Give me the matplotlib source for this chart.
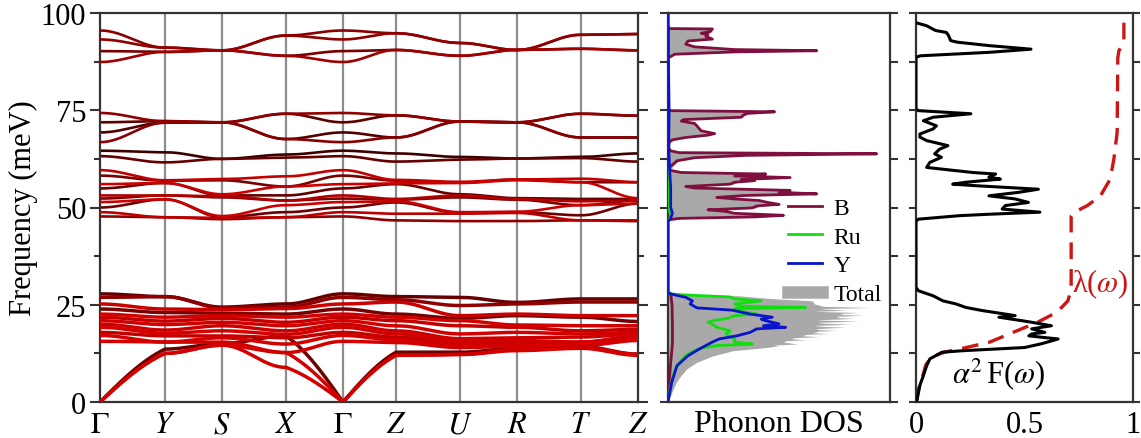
import numpy as np
import matplotlib
matplotlib.use("Agg")
import matplotlib.pyplot as plt
from matplotlib.lines import Line2D

plt.rcParams['font.family'] = ['Liberation Serif', 'DejaVu Serif']
plt.rcParams['mathtext.fontset'] = 'stix'

# ---------------- band structure ----------------
kpath_labels = [r'$\Gamma$', '$Y$', '$S$', '$X$', r'$\Gamma$', '$Z$', '$U$', '$R$', '$T$', '$Z$']
kpath_pos = [0.0, 0.65, 1.22, 1.86, 2.43, 2.96, 3.60, 4.17, 4.81, 5.38]

# frequencies (meV) at the high-symmetry points, one row per branch
bands_high = [
    [95.5, 91.1, 90.4, 94.2, 95.5, 94.8, 92.3, 90.5, 94.4, 94.6],
    [93.2, 91.1, 90.4, 94.2, 93.2, 94.8, 92.3, 90.5, 94.4, 94.6],
    [90.2, 90.0, 90.4, 89.0, 90.2, 90.5, 89.0, 90.5, 90.8, 90.4],
    [87.4, 90.0, 90.4, 89.0, 87.4, 90.5, 89.0, 90.5, 90.8, 90.4],
]
shade_high = [0.55, 0.6, 0.45, 0.7]

bands_c = [
    [74.3, 72.2, 71.9, 74.1, 74.3, 73.7, 72.1, 71.9, 74.1, 73.6],
    [71.9, 72.2, 71.9, 74.1, 71.9, 73.7, 72.1, 71.9, 74.1, 73.6],
    [69.3, 71.8, 71.9, 67.6, 69.3, 68.0, 72.1, 71.9, 68.0, 68.0],
    [66.8, 71.8, 71.9, 67.6, 66.8, 68.0, 72.1, 71.9, 68.0, 68.0],
]
shade_c = [0.6, 0.3, 0.25, 0.55]

bands_e = [
    [64.6, 64.2, 62.5, 63.6, 64.6, 63.9, 63.0, 62.6, 63.0, 63.9],
    [63.2, 61.6, 62.5, 62.8, 63.2, 61.8, 62.3, 62.6, 62.7, 61.8],
]
shade_e = [0.1, 0.35]

bands_mid = [
    [59.6, 57.0, 57.3, 58.0, 59.6, 57.1, 56.6, 57.2, 57.4, 56.5],
    [58.2, 56.9, 57.0, 55.4, 58.2, 56.9, 56.4, 57.2, 56.5, 56.5],
    [56.0, 56.3, 53.4, 55.4, 56.0, 56.2, 56.3, 57.0, 56.5, 52.4],
    [54.9, 56.3, 53.1, 53.1, 54.9, 56.0, 53.4, 52.4, 52.2, 52.2],
    [53.1, 53.1, 52.9, 51.8, 53.1, 52.2, 53.1, 52.2, 51.6, 51.8],
    [52.3, 53.1, 52.6, 51.8, 52.3, 52.0, 52.6, 52.0, 50.6, 51.8],
    [51.4, 52.1, 47.8, 50.6, 51.4, 51.6, 48.8, 48.9, 50.6, 51.0],
    [50.0, 52.1, 47.5, 48.8, 50.0, 51.3, 48.6, 48.8, 48.0, 51.0],
    [48.8, 47.5, 47.3, 47.5, 48.8, 48.4, 48.4, 48.6, 46.7, 46.7],
    [47.7, 47.5, 47.0, 47.5, 47.7, 46.7, 46.5, 46.5, 46.7, 46.5],
]
shade_mid = [0.9, 0.45, 0.95, 0.35, 0.8, 0.5, 0.95, 0.4, 0.85, 0.6]

bands_low = [
    [27.8, 27.1, 24.4, 25.2, 27.8, 27.1, 26.9, 25.6, 26.5, 26.5],
    [26.9, 27.1, 24.2, 24.4, 26.9, 26.3, 24.8, 25.2, 25.7, 25.7],
    [25.2, 23.9, 23.7, 24.0, 25.2, 25.7, 22.2, 22.6, 22.2, 22.2],
    [23.9, 23.0, 22.8, 22.6, 23.9, 22.6, 21.5, 22.2, 21.8, 20.7],
    [22.6, 21.8, 22.2, 21.8, 22.6, 21.8, 20.9, 19.8, 19.6, 19.6],
    [21.8, 20.8, 21.5, 20.5, 21.8, 20.9, 19.6, 19.2, 18.3, 18.7],
    [20.9, 19.9, 20.5, 19.6, 20.9, 19.6, 17.5, 17.9, 17.5, 17.9],
    [20.0, 18.5, 19.6, 18.3, 20.0, 18.3, 16.3, 16.5, 16.7, 17.5],
    [19.2, 17.7, 18.3, 17.4, 19.2, 17.5, 15.7, 15.8, 15.4, 17.0],
    [17.9, 17.0, 17.0, 16.5, 17.9, 16.7, 15.1, 15.1, 15.4, 16.6],
    [17.1, 15.4, 16.5, 14.9, 17.1, 16.0, 14.6, 14.7, 14.5, 16.2],
    [15.6, 15.4, 15.4, 12.7, 15.6, 15.3, 14.0, 14.3, 14.5, 15.8],
    [0.0, 13.6, 15.0, 17.0, 0.0, 12.8, 12.8, 13.8, 14.3, 12.3],
    [0.0, 12.5, 14.6, 12.7, 0.0, 12.0, 12.2, 13.5, 14.0, 12.3],
    [0.0, 12.5, 14.6, 8.9, 0.0, 12.0, 12.2, 13.2, 13.8, 12.0],
]
shade_low = [0.35, 0.6, 0.95, 0.45, 1.0, 0.9, 1.0, 0.95, 1.0, 0.9, 1.0, 1.0, 0.4, 1.0, 1.0]

# ---------------- phonon DOS (freq in meV, DOS in arb. units) ----------------
dos_B_freq = [0, 5, 10, 15, 20, 25, 27.9, 28.3,
              46.8, 47.2, 47.6, 48.0, 48.5, 49.0, 49.4, 49.9, 50.4, 50.8, 51.3, 51.8,
              52.2, 52.6, 53.1, 53.5, 53.9, 54.4, 55.0, 55.4, 56.0, 56.5, 56.9, 57.2,
              57.7, 58.1, 58.6, 59.0, 59.6, 60.5, 62.0, 62.8, 63.4, 63.8, 64.1, 64.6,
              65.5, 66.8, 67.4, 68.0, 68.6, 69.0, 69.7, 70.3, 71.0, 71.6, 72.2, 72.6,
              73.2, 73.8, 74.2, 74.6, 74.9, 75.2,
              88.0, 88.6, 89.4, 90.0, 90.3, 90.6, 91.3, 92.0, 92.8, 93.3, 94.0, 94.5,
              94.8, 95.2, 95.9, 96.0, 97.0, 100]
dos_B_val = [0, 0.005, 0.012, 0.02, 0.02, 0.018, 0.012, 0,
             0, 0.05, 0.40, 0.52, 0.30, 0.26, 0.18, 0.38, 0.40, 0.50, 0.45, 0.41,
             0.30, 0.22, 0.35, 0.67, 0.50, 0.55, 0.12, 0.08, 0.28, 0.30, 0.39, 0.33,
             0.55, 0.30, 0.44, 0.06, 0.005, 0.01, 0.04, 0.12, 0.35, 0.94, 0.05, 0.01,
             0.002, 0.005, 0.02, 0.08, 0.18, 0.21, 0.15, 0.14, 0.13, 0.12, 0.06, 0.07,
             0.33, 0.34, 0.36, 0.48, 0.01, 0,
             0, 0.005, 0.03, 0.30, 0.67, 0.30, 0.12, 0.08, 0.09, 0.20, 0.17, 0.18,
             0.15, 0.19, 0.20, 0.005, 0, 0]

dos_Ru_freq = [0, 2.0, 5.0, 8.0, 10.0, 12.0, 13.2, 14.0, 14.5, 14.9, 15.4, 16.2, 16.8,
               17.6, 18.3, 19.2, 20.0, 20.5, 20.9, 21.5, 22.2, 22.6, 23.3, 24.0, 24.3,
               24.6, 25.2, 26.0, 26.5, 27.0, 27.6, 27.9, 46.8, 47.5, 48.3, 50, 60, 75, 90, 100]
dos_Ru_val = [0, 0.005, 0.015, 0.03, 0.05, 0.08, 0.12, 0.16, 0.22, 0.38, 0.30, 0.30, 0.28,
              0.26, 0.28, 0.22, 0.20, 0.18, 0.20, 0.27, 0.30, 0.40, 0.33, 0.30, 0.62,
              0.32, 0.30, 0.42, 0.30, 0.28, 0.05, 0.0, 0, 0.012, 0.01, 0.004, 0.003, 0.002, 0.002, 0]

dos_Y_freq = [0, 5.1, 9.3, 11.9, 13.6, 14.5, 15.4, 16.2, 17.0, 17.9, 18.8, 19.2, 19.6,
              20.1, 20.9, 21.3, 21.8, 22.6, 23.6, 24.2, 25.2, 26.0, 26.9, 27.8, 28.0,
              46.5, 47.0, 48.5, 50.0, 55.0, 59.0, 63.0, 65.0, 75.0, 88.0, 96.0, 97.0, 100]
dos_Y_val = [0, 0.017, 0.04, 0.09, 0.14, 0.17, 0.20, 0.23, 0.31, 0.37, 0.40, 0.53, 0.43,
             0.50, 0.44, 0.42, 0.47, 0.37, 0.29, 0.13, 0.10, 0.11, 0.08, 0.01, 0,
             0, 0.01, 0.02, 0.012, 0.012, 0.008, 0.005, 0.003, 0.005, 0.002, 0.002, 0, 0]

dos_tot_freq = [0, 3.4, 6.0, 8.5, 10.2, 11.9, 13.2, 14.0, 14.5, 14.9, 15.2, 15.6, 16.0,
                16.4, 16.8, 17.2, 17.6, 18.0, 18.4, 18.8, 19.2, 19.6, 20.0, 20.4, 20.8,
                21.1, 21.5, 21.9, 22.3, 22.6, 23.0, 23.3, 23.6, 24.0, 24.3, 24.6, 25.2,
                26.0, 26.5, 26.9, 27.3, 27.8, 28.0, 100]
dos_tot_val = [0, 0.02, 0.047, 0.084, 0.129, 0.204, 0.294, 0.444, 0.50, 0.42, 0.55, 0.48, 0.62,
               0.52, 0.68, 0.55, 0.72, 0.58, 0.76, 0.60, 0.80, 0.62, 0.82, 0.64, 0.86,
               0.66, 0.84, 0.70, 0.88, 0.72, 0.86, 0.66, 0.80, 0.68, 0.91, 0.70, 0.66,
               0.65, 0.49, 0.40, 0.32, 0.01, 0, 0]

# ---------------- Eliashberg function and lambda ----------------
a2f_freq = [0, 4.3, 6.8, 9.3, 11.1, 12.8, 13.2, 13.6, 14.0, 15.0, 16.2, 17.0, 17.5, 17.9,
            18.8, 19.6, 20.5, 20.9, 21.8, 22.2, 22.6, 23.5, 24.3, 25.2, 26.0, 27.3, 28.6, 29.5,
            46.5, 47.0, 47.9, 48.3, 48.8, 49.6, 50.5, 51.3, 52.2, 53.0, 53.9, 54.7, 55.6, 56.0,
            56.5, 57.3, 57.8, 58.6, 59.0, 60.3, 61.6, 62.9, 63.8, 65.0, 65.9, 67.2, 68.1, 68.9,
            70.2, 71.0, 72.3, 73.2, 74.1, 74.9, 75.3,
            88.6, 89.0, 89.9, 90.7, 91.6, 92.5, 92.9, 94.2, 95.0, 95.5, 96.7, 97.5]
a2f_val = [0.003, 0.018, 0.034, 0.049, 0.064, 0.12, 0.22, 0.36, 0.50, 0.58, 0.655, 0.52, 0.533, 0.594,
           0.533, 0.624, 0.533, 0.488, 0.382, 0.457, 0.412, 0.306, 0.23, 0.185, 0.124, 0.079, 0.011, 0,
           0, 0.011, 0.20, 0.35, 0.571, 0.397, 0.412, 0.518, 0.457, 0.336, 0.473, 0.564, 0.276, 0.169,
           0.23, 0.389, 0.336, 0.367, 0.261, 0.049, 0.064, 0.117, 0.086, 0.109, 0.147, 0.049, 0.018, 0.018,
           0.079, 0.094, 0.034, 0.079, 0.253, 0.011, 0,
           0, 0.02, 0.34, 0.53, 0.34, 0.19, 0.16, 0.15, 0.14, 0.09, 0.05, 0]

lam_freq = [0, 3, 6.5, 9.5, 11.5, 12.8, 13.6, 15.4, 17.5, 20.5, 23.1, 26.0, 29.0, 47.8,
            48.8, 50.5, 53.0, 57.3, 62.5, 69.3, 88.5, 90.3, 92.5, 98.5]
lam_val = [0, 0.01, 0.03, 0.045, 0.07, 0.13, 0.2, 0.34, 0.43, 0.56, 0.65, 0.70, 0.715, 0.715,
           0.73, 0.79, 0.85, 0.895, 0.912, 0.927, 0.93, 0.935, 0.958, 0.958]

# ---------------- drawing ----------------
RED = np.array([0.83, 0.0, 0.0])
DARK = np.array([0.17, 0.0, 0.0])
SPINE = '#333333'


def band_curve(vals, n=60):
    xs, ys = [], []
    for i in range(len(kpath_pos) - 1):
        t = np.linspace(0, 1, n)
        a, b = vals[i], vals[i + 1]
        if a == 0 and b > 0:
            y = b * (0.6 * t + 0.4 * np.sin(np.pi / 2 * t))
        elif b == 0 and a > 0:
            s = 1 - t
            y = a * (0.6 * s + 0.4 * np.sin(np.pi / 2 * s))
        else:
            y = a + (b - a) * (1 - np.cos(np.pi * t)) / 2
        xs.append(kpath_pos[i] + (kpath_pos[i + 1] - kpath_pos[i]) * t)
        ys.append(y)
    return np.concatenate(xs), np.concatenate(ys)


W, H = 1141, 439
fig = plt.figure(figsize=(W / 100, H / 100), dpi=100)
ax1 = fig.add_axes([100 / W, 36 / H, 538 / W, 389 / H])
ax2 = fig.add_axes([668 / W, 36 / H, 222 / W, 389 / H])
ax3 = fig.add_axes([916 / W, 36 / H, 217 / W, 389 / H])

FS = 22

# band structure panel
for xp in kpath_pos[1:-1]:
    ax1.axvline(xp, color='#8c8c8c', lw=1.6, zorder=1)

groups = [(bands_high, shade_high, 1.9), (bands_c, shade_c, 1.9), (bands_e, shade_e, 1.9),
          (bands_mid, shade_mid, 1.9), (bands_low, shade_low, 2.5)]
for bands, shades, lw in groups:
    for vals, s in zip(bands, shades):
        x, y = band_curve(vals)
        col = DARK + s * (RED - DARK)
        ax1.plot(x, y, color=col, lw=lw, solid_capstyle='round', zorder=2 + s)

ax1.set_xlim(kpath_pos[0], kpath_pos[-1])
ax1.set_ylim(0, 100)
ax1.set_xticks(kpath_pos)
ax1.set_xticklabels(kpath_labels, fontsize=FS)
ax1.set_yticks([0, 25, 50, 75, 100])
ax1.set_yticks([12.5, 37.5, 62.5, 87.5], minor=True)
ax1.tick_params(axis='y', which='major', direction='out', length=7, width=1.5,
                labelsize=FS, right=True, color=SPINE, pad=3)
ax1.tick_params(axis='y', which='minor', direction='out', length=4, width=1.5,
                right=True, color=SPINE)
ax1.tick_params(axis='x', length=0, pad=6)
ax1.set_ylabel('Frequency (meV)', fontsize=FS, labelpad=2)

# phonon DOS panel
fgrid = np.linspace(0, 100, 4001)
tot_low = np.interp(fgrid, dos_tot_freq, dos_tot_val)
partial_sum = (np.interp(fgrid, dos_B_freq, dos_B_val) + np.interp(fgrid, dos_Ru_freq, dos_Ru_val)
               + np.interp(fgrid, dos_Y_freq, dos_Y_val))
tot = np.maximum(tot_low, partial_sum)
ax2.fill_betweenx(fgrid, 0, tot, color='#a9a9a9', lw=0, zorder=1)
ax2.plot(dos_B_val, dos_B_freq, color='#7f0f3f', lw=2.0, zorder=3)
ax2.plot(dos_Ru_val, dos_Ru_freq, color='#11dd11', lw=2.0, zorder=3)
ax2.plot(dos_Y_val, dos_Y_freq, color='#0a14c8', lw=2.0, zorder=4)
ax2.set_xlim(0, 1.0)
ax2.set_ylim(0, 100)
ax2.set_xticks([])
ax2.set_yticks(np.arange(0, 100.1, 12.5))
ax2.set_yticklabels([])
ax2.tick_params(axis='y', direction='out', length=6, width=1.5, right=True, color=SPINE)
ax2.set_xlabel('Phonon DOS', fontsize=23, labelpad=5)
handles = [Line2D([], [], color='#7f0f3f', lw=2.0), Line2D([], [], color='#11dd11', lw=2.0),
           Line2D([], [], color='#0a14c8', lw=2.0), Line2D([], [], color='#a9a9a9', lw=9)]
ax2.legend(handles, ['B', 'Ru', 'Y', 'Total'], loc='upper left', bbox_to_anchor=(0.5, 0.55),
           frameon=False, fontsize=17, handlelength=1.4, handletextpad=0.5, labelspacing=0.3,
           borderaxespad=0)

# Eliashberg panel
ax3.plot(a2f_val, a2f_freq, color='black', lw=2.2, zorder=3)
ax3.plot(lam_val, lam_freq, color='#cc1515', lw=2.4, dashes=(5, 3), zorder=2)
ax3.set_xlim(0, 1)
ax3.set_ylim(0, 100)
ax3.set_xticks([0, 0.5, 1])
ax3.set_xticklabels(['0', '0.5', '1'], fontsize=FS)
ax3.tick_params(axis='x', length=0, pad=6)
ax3.set_yticks(np.arange(0, 100.1, 12.5))
ax3.set_yticklabels([])
ax3.tick_params(axis='y', direction='out', length=5, width=1.5, right=True, color=SPINE)
ax3.text(0.38, 7.5, r'$\alpha^2\,$F($\omega$)', fontsize=FS, ha='center', va='center')
ax3.text(0.85, 30.5, r'λ($\omega$)', fontsize=FS, ha='center', va='center', color='#cc1515')

for ax in (ax1, ax2, ax3):
    for sp in ax.spines.values():
        sp.set_color(SPINE)
        sp.set_linewidth(1.6)

fig.savefig('out.png', dpi=100)
